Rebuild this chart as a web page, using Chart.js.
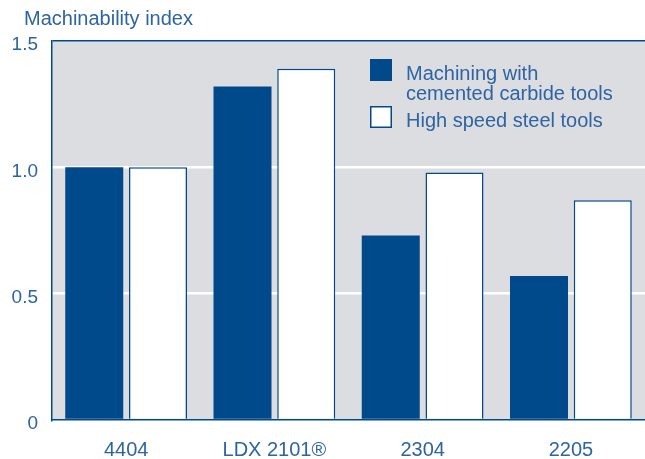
<!DOCTYPE html>
<html>
<head>
<meta charset="utf-8">
<script src="https://cdn.jsdelivr.net/npm/chart.js@4.4.0/dist/chart.umd.min.js"></script>
<style>
  html, body { margin: 0; padding: 0; background: #fff; }
  #wrap { width: 645px; height: 459px; }
</style>
</head>
<body>
<div id="wrap"><canvas id="chart" width="645" height="459"></canvas></div>
<script>
// ------- data -------
const categories   = ['4404', 'LDX 2101®', '2304', '2205'];
const carbideVals  = [1.0, 1.32, 0.73, 0.57];
const hssVals      = [1.0, 1.39, 0.98, 0.87];
const seriesLabels = [['Machining with', 'cemented carbide tools'], ['High speed steel tools']];
const yTickLabels  = ['0', '0.5', '1.0', '1.5'];
const yTitle       = 'Machinability index';

// ------- style -------
const DARK = '#004a8c';
const TEXT = '#2d64a3';
const PANEL = '#dcdde0';
const FONT = '"Liberation Sans", Arial, sans-serif';
const NARROW = '"Liberation Sans Narrow", "Liberation Sans", Arial, sans-serif';

// 灰底 + 標題 + 自訂圖例（兩行文字 Chart.js 圖例不支援）
const decor = {
  id: 'decor',
  beforeDraw(chart) {
    const { ctx, chartArea: a } = chart;
    ctx.save();
    ctx.fillStyle = PANEL;
    ctx.fillRect(a.left, a.top, a.right - a.left, a.bottom - a.top);
    ctx.restore();
  },
  afterDraw(chart) {
    const { ctx, chartArea: a } = chart;
    ctx.save();
    ctx.fillStyle = TEXT;
    ctx.font = `20px ${FONT}`;
    ctx.textBaseline = 'alphabetic';
    ctx.textAlign = 'left';
    ctx.fillText(yTitle, 24, 25);

    // legend
    const lx = a.left + 318, box = 22;
    const rows = [
      { y: a.top + 18, fill: DARK, stroke: DARK, lines: seriesLabels[0] },
      { y: a.top + 65, fill: '#fff', stroke: DARK, lines: seriesLabels[1] },
    ];
    ctx.font = `20px ${FONT}`;
    rows.forEach(r => {
      ctx.fillStyle = r.fill;
      ctx.fillRect(lx, r.y, box, box);
      ctx.strokeStyle = r.stroke;
      ctx.lineWidth = 1.5;
      ctx.strokeRect(lx + 0.75, r.y + 0.75, box - 1.5, box - 1.5);
      ctx.fillStyle = TEXT;
      r.lines.forEach((t, i) => ctx.fillText(t, lx + 36, r.y + 21 + i * 19.5));
    });
    ctx.restore();
  }
};

new Chart(document.getElementById('chart'), {
  type: 'bar',
  data: {
    labels: categories,
    datasets: [
      { label: seriesLabels[0].join(' '), data: carbideVals, backgroundColor: DARK,
        borderColor: DARK, borderWidth: 0,
        barPercentage: 0.91, categoryPercentage: 0.86 },
      { label: seriesLabels[1].join(' '), data: hssVals, backgroundColor: '#fff',
        borderColor: DARK, borderWidth: 1.5,
        barPercentage: 0.91, categoryPercentage: 0.86 },
    ]
  },
  options: {
    responsive: false,
    animation: false,
    layout: { padding: { top: 41, left: 0, right: 0, bottom: 0 } },
    plugins: { legend: { display: false }, title: { display: false }, tooltip: { enabled: false } },
    scales: {
      x: {
        grid: { display: false },
        border: { color: DARK, width: 1.5 },
        ticks: { color: TEXT, font: { family: NARROW, size: 20 }, padding: 10 },
        afterFit: (s) => { s.height = 39; }
      },
      y: {
        min: 0, max: 1.5,
        grid: {
          drawTicks: false,
          color: (c) => c.tick.value === 1.5 ? DARK : (c.tick.value === 0 ? 'rgba(0,0,0,0)' : '#fff'),
          lineWidth: (c) => c.tick.value === 1.5 ? 1.5 : 2.5
        },
        border: { color: DARK, width: 1.5 },
        ticks: {
          stepSize: 0.5, color: TEXT, padding: 14, labelOffset: 4,
          font: { family: FONT, size: 19 },
          callback: (v, i) => yTickLabels[i]
        },
        afterFit: (s) => { s.width = 52; }
      }
    }
  },
  plugins: [decor]
});
</script>
</body>
</html>
